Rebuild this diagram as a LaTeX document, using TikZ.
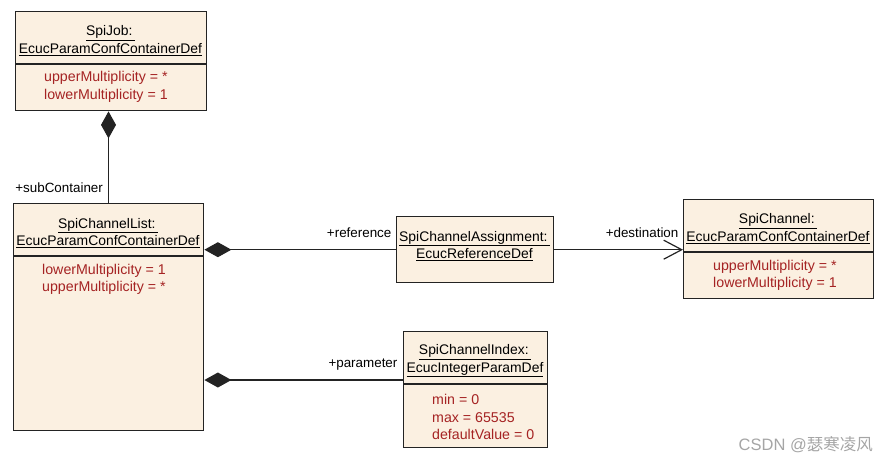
\documentclass[tikz,border=0pt]{standalone}
\usepackage{fontspec}
\setmainfont{Liberation Sans}
\newfontfamily\cjkfont{Noto Sans CJK SC}
\usepackage{xcolor}
\usetikzlibrary{arrows.meta, positioning}

\definecolor{classfill}{RGB}{251,240,225}
\definecolor{classline}{RGB}{35,35,35}
\definecolor{attrred}{RGB}{165,35,35}
\definecolor{markgray}{RGB}{165,165,165}

\tikzset{
  classbox/.style={draw=classline, fill=classfill, line width=1.4pt, inner sep=0pt, anchor=north west},
  classtitle/.style={align=center, inner sep=0pt, font=\fontsize{13.9}{17.5}\selectfont},
  classattr/.style={align=left, inner sep=0pt, anchor=west, text=attrred, font=\fontsize{14.2}{17.5}\selectfont},
  rolelabel/.style={inner sep=0pt, anchor=east, font=\fontsize{13.4}{15}\selectfont},
  compo/.style={{Diamond[length=27pt, width=15pt]}-, line width=1.2pt, draw=classline},
  refto/.style={-{Straight Barb[length=18pt, width=19pt, line width=1.2pt]}, line width=1.2pt, draw=classline},
}

\begin{document}
\begin{tikzpicture}[x=1pt, y=-1pt]
\useasboundingbox (0,0) rectangle (889,463);

% Klassen
\node[classbox, minimum width=191pt, minimum height=99pt] (job) at (15,11) {};
\node[classbox, minimum width=190pt, minimum height=227pt] (list) at (13,203) {};
\node[classbox, minimum width=157pt, minimum height=66pt] (assign) at (396,216) {};
\node[classbox, minimum width=190pt, minimum height=99pt] (chan) at (683,199) {};
\node[classbox, minimum width=144pt, minimum height=116pt] (index) at (403,331) {};

% Trennlinien
\draw[classline, line width=1.5pt] (job.west |- 0,64) -- (job.east |- 0,64);
\draw[classline, line width=1.5pt] (list.west |- 0,256) -- (list.east |- 0,256);
\draw[classline, line width=1.5pt] (chan.west |- 0,252) -- (chan.east |- 0,252);
\draw[classline, line width=1.5pt] (index.west |- 0,384) -- (index.east |- 0,384);

% Titel
\node[classtitle] (jobT) at (110.5,40.5) {\underline{SpiJob:\,}\\\underline{EcucParamConfContainerDef}};
\node[classtitle] (listT) at (108,233) {\underline{SpiChannelList:\,}\\\underline{EcucParamConfContainerDef}};
\node[classtitle] (assignT) at (474.5,246) {\underline{SpiChannelAssignment:\,}\\\underline{EcucReferenceDef}};
\node[classtitle] (chanT) at (778,228.5) {\underline{SpiChannel:\,}\\\underline{EcucParamConfContainerDef}};
\node[classtitle] (indexT) at (475,361) {\underline{SpiChannelIndex:\,}\\\underline{EcucIntegerParamDef}};

% Attribute
\node[classattr] (jobA) at (44,87) {upperMultiplicity = *\\lowerMultiplicity = 1};
\node[classattr] (listA) at (42,279.5) {lowerMultiplicity = 1\\upperMultiplicity = *};
\node[classattr] (chanA) at (713,275.5) {upperMultiplicity = *\\lowerMultiplicity = 1};
\node[classattr] (indexA) at (432,417) {min = 0\\max = 65535\\defaultValue = 0};

% Verbindungen
\coordinate (idxIn) at ([yshift=-49pt]index.north west);
\draw[compo] (job.south -| 108.5,0) -- node[rolelabel, at end, xshift=-5pt, yshift=15pt] {+subContainer} (list.north -| 108.5,0);
\draw[compo] (list.east |- assign.west) -- node[rolelabel, at end, xshift=-4pt, yshift=17pt] {+reference} (assign.west);
\draw[refto] (assign.east) -- node[rolelabel, at end, xshift=-4pt, yshift=17pt] {+destination} (assign.east -| chan.west);
\draw[compo] (list.east |- idxIn) -- node[rolelabel, at end, xshift=-5pt, yshift=15pt] {+parameter} (idxIn);

% Wasserzeichen
\node[inner sep=0pt, anchor=east, text=markgray, font=\fontsize{16.5}{18}\selectfont] (mark) at (873,445) {CSDN @{\cjkfont 瑟寒凌风}};
\end{tikzpicture}
\end{document}
